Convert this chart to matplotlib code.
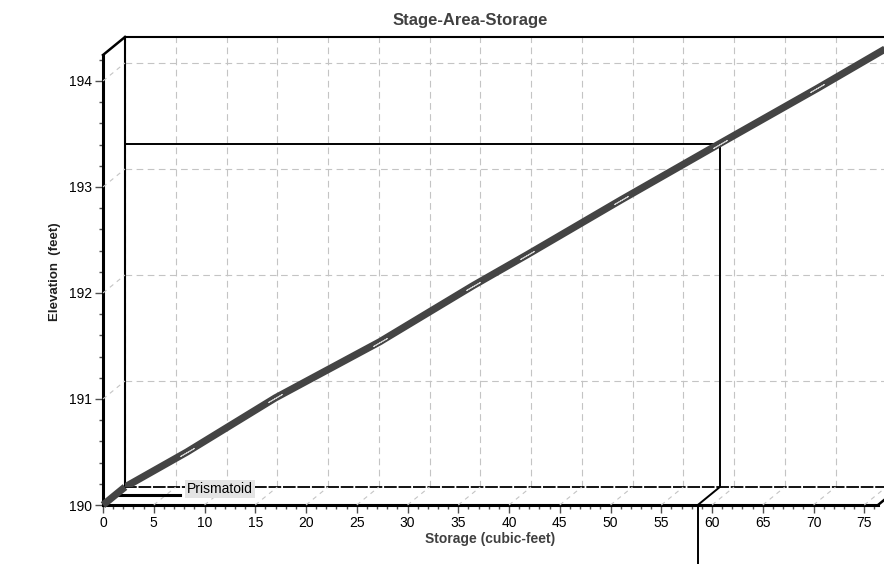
import numpy as np
import matplotlib
matplotlib.use("Agg")
import matplotlib.pyplot as plt
from matplotlib.lines import Line2D
from matplotlib.ticker import MultipleLocator
from matplotlib.transforms import IdentityTransform

plt.rcParams['font.family'] = ['Liberation Sans', 'DejaVu Sans']

# stage-storage table (Prismatoid)
elevation = [190.00, 190.33, 190.84, 191.37, 191.90, 192.19, 192.71, 193.24, 193.76, 194.30]
storage = [0.0, 6.1, 14.8, 25.1, 34.3, 39.6, 48.9, 58.6, 68.2, 77.9]
series_name = 'Prismatoid'

# marked stage
mark_elev = 193.24
mark_stor = 58.6

x_ticks = list(range(0, 80, 5))
y_ticks = [190, 191, 192, 193, 194]
xmax = 76.35
ymax = 194.245

W, H = 884, 564
fig = plt.figure(figsize=(W / 100, H / 100), dpi=100)

# back plane (data + grid) and front plane (axes, ticks); depth offset 22 px right, 18 px up
dx, dy = 22, 18
fl, fb, fw, fh = 103, 564 - 505, 775, 450
ax = fig.add_axes([(fl + dx) / W, (fb + dy) / H, fw / W, fh / H])
axf = fig.add_axes([fl / W, fb / H, fw / W, fh / H])
axf.patch.set_alpha(0)

for a in (ax, axf):
    a.set_xlim(0, xmax)
    a.set_ylim(190, ymax)

# back plane
ax.set_xticks(x_ticks)
ax.set_yticks(y_ticks)
ax.tick_params(length=0, labelbottom=False, labelleft=False)
ax.grid(True, color='#c4c4c4', lw=0.8, ls=(0, (6, 4)))
ax.spines['right'].set_visible(False)
ax.spines['left'].set_linewidth(1.5)
ax.spines['top'].set_linewidth(1.5)
ax.spines['bottom'].set_linewidth(1.3)
ax.spines['bottom'].set_linestyle((0, (6, 2)))

# front plane
axf.spines['right'].set_visible(False)
axf.spines['top'].set_visible(False)
axf.spines['left'].set_linewidth(2.2)
axf.spines['bottom'].set_linewidth(2.2)
axf.set_xticks(x_ticks)
axf.set_yticks(y_ticks)
axf.xaxis.set_minor_locator(MultipleLocator(1))
axf.yaxis.set_minor_locator(MultipleLocator(0.2))
axf.tick_params(which='major', length=6, width=1, color='#505050', labelsize=10, pad=2)
axf.tick_params(which='minor', length=3, width=1, color='#505050')
axf.set_xlabel('Storage (cubic-feet)', fontsize=10, fontweight='bold', color='#404040', labelpad=1)
axf.set_ylabel('Elevation  (feet)', fontsize=9.5, fontweight='bold', color='#202020')
axf.yaxis.set_label_coords(-42 / fw, 0.518)


def link(x, y, **kw):
    # line between the same data point on the front and back planes
    p0 = axf.transData.transform((x, y))
    p1 = ax.transData.transform((x, y))
    fig.add_artist(Line2D([p0[0], p1[0]], [p0[1], p1[1]],
                          transform=IdentityTransform(), **kw))


# depth lines
for t in x_ticks[1:]:
    link(t, 190, color='#c4c4c4', lw=0.8, ls=(0, (4, 4)))
for t in y_ticks[1:]:
    link(0, t, color='#c4c4c4', lw=0.8, ls=(0, (4, 4)))
link(0, ymax, color='black', lw=1.8)
link(xmax, 190, color='black', lw=1.8)

# marked stage lines
ax.plot([0, mark_stor], [mark_elev, mark_elev], color='black', lw=1.4, zorder=3)
ax.plot([mark_stor, mark_stor], [190, mark_elev], color='black', lw=1.4, zorder=3)
link(mark_stor, 190, color='black', lw=1.4)
axf.plot([mark_stor, mark_stor], [190, 189.3], color='black', lw=1.4, clip_on=False)

# storage curve
ax.plot(storage, elevation, color='#444444', lw=5.2, solid_capstyle='butt', zorder=4)
link(storage[0], elevation[0], color='#444444', lw=5.2, solid_capstyle='butt', zorder=4)
ax.plot(storage[1:-1], elevation[1:-1], ls='none', marker=(2, 2, -60), ms=12,
        mec='#cfcfcf', mew=0.7, zorder=5)

# legend
fig.add_artist(Line2D([115, 180], [H - 495, H - 495], transform=IdentityTransform(),
                      color='black', lw=2.2))
fig.text(187 / W, 1 - 489 / H, series_name, fontsize=10, va='center', ha='left',
         bbox=dict(facecolor='#e4e4e4', edgecolor='none', pad=1.5))

fig.text(470 / W, 1 - 20 / H, 'Stage-Area-Storage', fontsize=12, fontweight='bold',
         color='#404040', ha='center', va='center')

fig.savefig('out.png', dpi=100)
